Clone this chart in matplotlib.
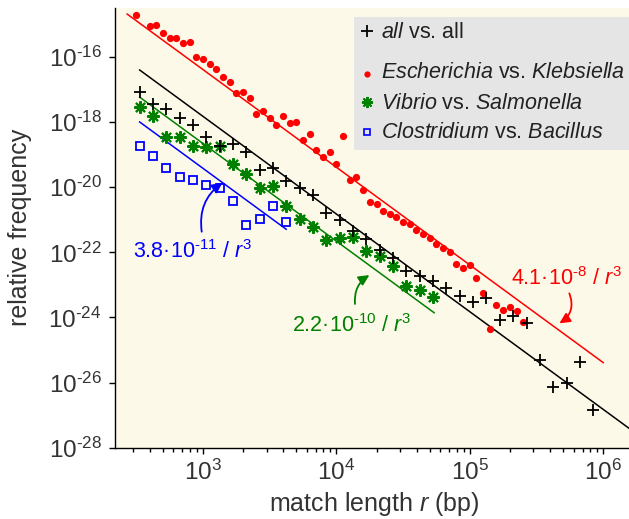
import numpy as np
import matplotlib
matplotlib.use("Agg")
import matplotlib.pyplot as plt
from matplotlib.lines import Line2D
from matplotlib.patches import Rectangle
from matplotlib.ticker import FixedLocator, FuncFormatter, LogLocator, NullLocator

plt.rcParams["font.family"] = ["Liberation Sans", "DejaVu Sans"]
plt.rcParams["mathtext.fontset"] = "custom"
plt.rcParams["mathtext.rm"] = "Liberation Sans"
plt.rcParams["mathtext.it"] = "Liberation Sans:italic"
plt.rcParams["mathtext.bf"] = "Liberation Sans:bold"
plt.rcParams["axes.unicode_minus"] = False

# match length bins (bp)
r_all = [335, 422, 531, 668, 841, 1060, 1330, 1680, 2110, 2660, 3350, 4220,
         5310, 6680, 8410, 1.06e4, 1.33e4, 1.68e4, 2.11e4, 2.66e4, 3.35e4,
         4.22e4, 5.31e4, 6.68e4, 8.41e4, 1.06e5, 1.33e5, 1.68e5, 2.11e5,
         2.66e5, 3.35e5, 4.22e5, 5.31e5, 6.68e5, 8.41e5]
r_ek = [316, 398, 447, 501, 562, 631, 708, 794, 891, 1000, 1120, 1260, 1410,
        1580, 1780, 2000, 2240, 2510, 2820, 3160, 3550, 3980, 4470, 5010,
        5620, 6310, 7080, 7940, 8910, 1.0e4, 1.12e4, 1.26e4, 1.41e4, 1.58e4,
        1.78e4, 2.0e4, 2.24e4, 2.51e4, 2.82e4, 3.16e4, 3.55e4, 3.98e4,
        4.47e4, 5.01e4, 5.62e4, 6.31e4, 7.08e4, 7.94e4, 8.91e4, 1.0e5,
        1.12e5, 1.26e5, 1.41e5, 1.58e5, 1.78e5, 2.0e5, 2.24e5, 2.51e5]
r_vs = r_all[:23]
r_cb = r_all[:12]

# relative frequencies
f_all = [8.7e-18, 3.6e-18, 2.5e-18, 1.3e-18, 8.2e-19, 3.6e-19, 1.9e-19,
         2.1e-19, 1.2e-19, 3.4e-20, 3.8e-20, 1.6e-20, 9.3e-21, 5.8e-21,
         1.6e-21, 1.0e-21, 4.6e-22, 2.5e-22, 1.2e-22, 6.6e-23, 2.6e-23,
         1.9e-23, 1.3e-23, 7.9e-24, 4.5e-24, 3.0e-24, 3.9e-24, 8.4e-25,
         1.1e-24, 6.6e-25, 4.9e-26, 7.2e-27, 1.0e-26, 4.4e-26, 1.4e-27]
f_ek = [1.9e-15, 9.0e-16, 9.9e-16, 5.4e-16, 3.9e-16, 3.8e-16, 2.65e-16,
        2.8e-16, 9.9e-17, 8.9e-17, 6.0e-17, 4.4e-17, 2.4e-17, 1.7e-17,
        8.1e-18, 8.3e-18, 5.7e-18, 1.8e-18, 2.2e-18, 1.3e-18, 8.2e-19,
        1.5e-18, 9.2e-19, 1.04e-18, 2.8e-19, 4.2e-19, 1.4e-19, 8.4e-20,
        1.2e-19, 5.2e-20, 3.8e-19, 1.7e-20, 2.1e-20, 8.3e-21, 3.6e-21,
        3.1e-21, 1.9e-21, 1.5e-21, 1.2e-21, 8.8e-22, 7.5e-22, 5.0e-22,
        3.7e-22, 2.8e-22, 1.8e-22, 1.4e-22, 1.05e-22, 4.4e-23, 3.25e-23,
        4.1e-23, 1.6e-23, 5.8e-24, 4.3e-25, 2.4e-24, 1.7e-24, 2.15e-24,
        1.6e-24, 7.4e-25]
f_vs = [3.0e-18, 1.55e-18, 3.6e-19, 3.6e-19, 1.9e-19, 1.7e-19, 1.9e-19,
        5.0e-20, 2.6e-20, 9.5e-21, 1.1e-20, 2.7e-21, 1.06e-21, 5.8e-22,
        2.4e-22, 2.7e-22, 2.9e-22, 1.1e-22, 7.7e-23, 3.8e-23, 9.3e-24,
        7.0e-24, 4.3e-24]
f_cb = [1.8e-19, 9.3e-20, 3.8e-20, 2.1e-20, 1.7e-20, 1.2e-20, 9.7e-21,
        3.8e-21, 6.9e-22, 1.06e-21, 2.7e-21, 8.8e-22]

# fitted c / r^3 lines and the r range each one covers
c_all, c_ek, c_vs, c_cb = 1.5e-9, 4.1e-8, 2.2e-10, 3.8e-11
span_all = (335, 1.6e6)
span_ek = (270, 1.0e6)
span_vs = (335, 5.4e4)
span_cb = (335, 4200)

RED, GREEN, BLUE, INK = "#ff0000", "#008000", "#0000ff", "#333333"
W, H = 629, 519


def fpx(x, y):
    # pixel position (from top left) -> figure fraction
    return x / W, 1 - y / H


fig = plt.figure(figsize=(W / 100, H / 100), dpi=100)
ax = fig.add_axes([114.5 / W, 1 - 447.7 / H, 1 - 114.5 / W, 439.7 / H])
ax.set_facecolor("#fdf9e8")
ax.set_xscale("log")
ax.set_yscale("log")
ax.set_xlim(217, 1.56e6)
ax.set_ylim(1e-28, 3.2e-15)

for c, (lo, hi), col in [(c_all, span_all, "black"), (c_ek, span_ek, RED),
                         (c_vs, span_vs, GREEN), (c_cb, span_cb, BLUE)]:
    rr = np.array([lo, hi])
    ax.plot(rr, c / rr ** 3, color=col, lw=1.1, zorder=2)

ax.plot(r_cb, f_cb, ls="none", marker="s", ms=5.5, mfc="none", mec=BLUE,
        mew=1.3, zorder=3)
ax.plot(r_vs, f_vs, ls="none", marker=(8, 2, 0), ms=9, mec=GREEN,
        mew=1.5, zorder=3)
ax.plot(r_ek, f_ek, ls="none", marker="o", ms=5.2, mfc=RED, mec=RED,
        mew=0, zorder=3)
ax.plot(r_all, f_all, ls="none", marker="+", ms=9, mec="black", mew=1.3,
        zorder=4)

# axes styling
for side in ("top", "right"):
    ax.spines[side].set_visible(False)
for side in ("left", "bottom"):
    ax.spines[side].set_linewidth(1.0)
ax.xaxis.set_major_locator(FixedLocator([1e3, 1e4, 1e5, 1e6]))
ax.xaxis.set_minor_locator(LogLocator(base=10, subs=np.arange(2, 10)))
ax.xaxis.set_major_formatter(
    FuncFormatter(lambda v, p: r"$10^{%d}$" % round(np.log10(v))))
ax.yaxis.set_major_locator(FixedLocator([10.0 ** e for e in range(-28, -15, 2)]))
ax.yaxis.set_minor_locator(NullLocator())
ax.yaxis.set_major_formatter(
    FuncFormatter(lambda v, p: r"$10^{\text{-}%d}$" % round(-np.log10(v))))
ax.tick_params(which="major", direction="out", length=4.3, width=1.0,
               labelsize=17.5, labelcolor=INK)
ax.tick_params(which="minor", direction="out", length=3, width=1.0)
ax.tick_params(axis="y", pad=5)
ax.tick_params(axis="x", pad=4)

ax.set_xlabel("match length $r$ (bp)", fontsize=18, color=INK)
ax.set_ylabel("relative frequency", fontsize=18, color=INK)
ax.xaxis.set_label_coords(0.504, -0.097)
ax.yaxis.set_label_coords(-0.16, 0.5)

# fit labels with curved arrows
arrow = dict(arrowstyle="-|>,head_length=0.45,head_width=0.22", lw=1.3,
             shrinkA=0, shrinkB=0, mutation_scale=14)
ax.annotate("", xy=(1400, c_cb / 1400 ** 3), xytext=(978, 4.3e-22),
            arrowprops=dict(arrow, color=BLUE, connectionstyle="arc3,rad=-0.3"))
ax.text(297, 6.8e-23, "3.8·$10^{\\text{-}11}$ / $r^{3}$", color=BLUE,
        fontsize=15.5, ha="left", va="baseline")
ax.annotate("", xy=(17660, 2.0e-23), xytext=(13770, 2.6e-24),
            arrowprops=dict(arrow, color=GREEN, connectionstyle="arc3,rad=-0.3"))
ax.text(4620, 3.7e-25, "2.2·$10^{\\text{-}10}$ / $r^{3}$", color=GREEN,
        fontsize=15.5, ha="left", va="baseline")
ax.annotate("", xy=(4.69e5, 6.6e-25), xytext=(5.57e5, 5.5e-24),
            arrowprops=dict(arrow, color=RED, connectionstyle="arc3,rad=-0.4"))
ax.text(2.05e5, 1.0e-23, "4.1·$10^{\\text{-}8}$ / $r^{3}$", color=RED,
        fontsize=15.5, ha="left", va="baseline", clip_on=False)

# legend box
x0, y0 = fpx(354, 150)
x1, y1 = fpx(629, 17)
fig.add_artist(Rectangle((x0, y0), x1 - x0, y1 - y0, transform=fig.transFigure,
                         facecolor="#e5e5e5", edgecolor="none", zorder=5))
rows = [
    ("+", dict(ms=8, mec="black", mew=1.3), 30.7, 37.7,
     "$\\mathit{all}$ vs. all"),
    ("o", dict(ms=4.5, mfc=RED, mec=RED, mew=0), 74.3, 78.3,
     "$\\mathit{Escherichia}$ vs. $\\mathit{Klebsiella}$"),
    ((8, 2, 0), dict(ms=8, mec=GREEN, mew=1.4), 102.3, 109,
     "$\\mathit{Vibrio}$ vs. $\\mathit{Salmonella}$"),
    ("s", dict(ms=4.5, mfc="none", mec=BLUE, mew=1.2), 131.7, 138.3,
     "$\\mathit{Clostridium}$ vs. $\\mathit{Bacillus}$"),
]
for mk, style, ym, yb, label in rows:
    mx, my = fpx(367, ym)
    fig.add_artist(Line2D([mx], [my], marker=mk, ls="none",
                          transform=fig.transFigure, zorder=6, **style))
    tx, ty = fpx(380.7, yb)
    fig.text(tx, ty, label, fontsize=15.5, color="#222222", ha="left",
             va="baseline", zorder=6)

fig.savefig("out.png", dpi=100)
